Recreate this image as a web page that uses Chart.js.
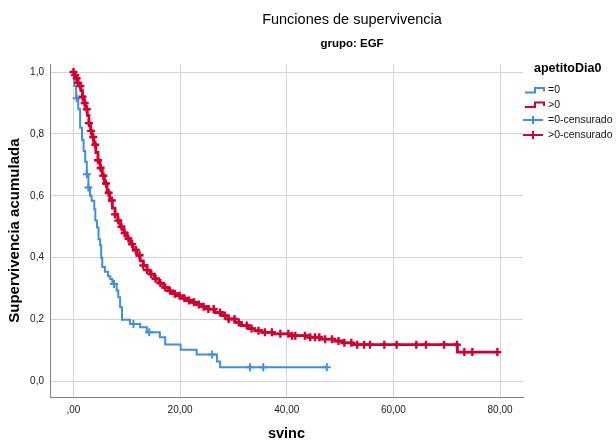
<!DOCTYPE html>
<html>
<head>
<meta charset="utf-8">
<script src="https://cdn.jsdelivr.net/npm/chart.js@4.4.0/dist/chart.umd.min.js"></script>
<style>
  html, body { margin: 0; padding: 0; background: #ffffff; }
  #wrap { width: 616px; height: 443px; }
</style>
</head>
<body>
<div id="wrap"><canvas id="km" width="616" height="443"></canvas></div>
<script>
// Survival functions by apetitoDia0 (group EGF)
const titleText = 'Funciones de supervivencia';
const subtitleText = 'grupo: EGF';
const legendTitle = 'apetitoDia0';
const groupLabels = ['=0', '>0'];
const censorLabels = ['=0-censurado', '>0-censurado'];

// Group "=0": event times and cumulative survival after each step
const timeEq0 = [0, 0.15, 0.5, 0.9, 1.25, 1.6, 1.9, 2.2, 2.5, 2.8, 3.1, 3.4, 3.9, 4.1, 4.4,
  4.7, 5.0, 5.2, 5.4, 5.9, 6.5, 6.9, 7.3, 8.1, 8.4, 8.75, 9.1, 10.6, 12.5, 13.75,
  16.2, 17.2, 20.1, 23.1, 26.9, 27.5, 47.5];
const survEq0 = [1.000, 0.955, 0.915, 0.880, 0.820, 0.780, 0.745, 0.710, 0.670, 0.627, 0.600, 0.584, 0.557, 0.520, 0.498,
  0.460, 0.440, 0.400, 0.370, 0.355, 0.340, 0.331, 0.315, 0.294, 0.272, 0.240, 0.200, 0.186, 0.175, 0.159,
  0.143, 0.120, 0.103, 0.087, 0.065, 0.046, 0.046];
// Group "=0": censored times
const censEq0 = [0.6, 2.5, 2.8, 7.6, 11.25, 14.2, 26.0, 33.1, 35.6, 47.5];

// Group ">0": event times and cumulative survival after each step
const timeGt0 = [0, 0.2, 0.5, 0.8, 1.1, 1.4, 1.7, 2.0, 2.3, 2.6, 2.9, 3.2, 3.5, 3.8, 4.2,
  4.6, 5.0, 5.4, 5.8, 6.3, 6.8, 7.3, 7.8, 8.3, 8.8, 9.4, 10.0, 10.6, 11.2, 11.9,
  12.5, 13.1, 13.8, 14.4, 15.2, 16.0, 16.9, 17.8, 18.6, 19.4, 20.4, 21.3, 22.2, 23.2, 24.2,
  25.3, 26.5, 27.8, 29.0, 30.3, 31.5, 32.8, 34.0, 35.3, 37.5, 40.5, 44.0, 46.5, 49.0, 50.5,
  52.5, 72.0, 79.5];
const survGt0 = [1.000, 0.990, 0.980, 0.965, 0.955, 0.940, 0.920, 0.900, 0.880, 0.860, 0.835, 0.810, 0.790, 0.765, 0.740,
  0.715, 0.690, 0.665, 0.640, 0.610, 0.585, 0.560, 0.540, 0.520, 0.500, 0.480, 0.462, 0.444, 0.425, 0.408,
  0.390, 0.375, 0.360, 0.347, 0.332, 0.318, 0.304, 0.293, 0.284, 0.277, 0.269, 0.262, 0.256, 0.249, 0.242,
  0.234, 0.223, 0.213, 0.202, 0.191, 0.181, 0.171, 0.164, 0.159, 0.154, 0.148, 0.143, 0.137, 0.131, 0.125,
  0.119, 0.095, 0.095];
// Group ">0": censored times
const censGt0 = [0.0, 0.3, 0.6, 0.9, 1.3, 1.7, 2.1, 2.5, 2.9, 3.3, 3.7, 4.1, 4.6, 5.1, 5.6, 6.1, 6.6, 7.2, 7.8,
  8.4, 9.0, 9.6, 10.3, 11.0, 11.7, 12.4, 13.1, 13.8, 14.6, 15.4, 16.3, 17.2, 18.1, 19.0, 19.9, 20.8,
  21.7, 22.6, 23.5, 24.4, 25.3, 26.3, 27.5, 28.4, 29.1, 30.2, 31.0, 32.5, 33.4, 34.7, 35.9, 37.2, 38.8,
  40.3, 41.0, 41.6, 43.4, 44.4, 45.3, 46.1, 47.2, 48.5, 49.7, 50.8, 52.1, 53.2, 54.5, 55.6, 58.3, 60.6,
  64.3, 66.1, 69.5, 71.9, 73.3, 74.8, 79.5];

// Axis ticks
const xTickValues = [0, 20, 40, 60, 80];
const xTickLabels = [',00', '20,00', '40,00', '60,00', '80,00'];
const yTickValues = [0, 0.2, 0.4, 0.6, 0.8, 1.0];
const yTickLabels = ['0,0', '0,2', '0,4', '0,6', '0,8', '1,0'];

const BLUE = '#3f8fdf';
const RED = '#d4002f';
const FONT = "'Liberation Sans', Arial, sans-serif";

// survival value in force at time t (last step at or before t)
function survivalAt(times, surv, t) {
  let s = surv[0];
  for (let i = 0; i < times.length; i++) {
    if (times[i] <= t) s = surv[i]; else break;
  }
  return s;
}
const toPoints = (times, surv) => times.map((t, i) => ({ x: t, y: surv[i] }));
const censorPoints = (cens, times, surv) => cens.map(t => ({ x: t, y: survivalAt(times, surv, t) }));

Chart.defaults.font.family = FONT;

// Legend with step and cross glyphs, drawn at the right of the plot
const kmLegend = {
  id: 'kmLegend',
  afterDraw(chart) {
    const ctx = chart.ctx;
    ctx.save();
    ctx.textBaseline = 'middle';
    ctx.textAlign = 'left';
    ctx.fillStyle = '#000';
    ctx.font = 'bold 12.5px ' + FONT;
    ctx.fillText(legendTitle, 534, 69);
    const rows = [
      { label: groupLabels[0], color: BLUE, glyph: 'step', y: 90.5 },
      { label: groupLabels[1], color: RED, glyph: 'step', y: 105 },
      { label: censorLabels[0], color: BLUE, glyph: 'cross', y: 120 },
      { label: censorLabels[1], color: RED, glyph: 'cross', y: 135 }
    ];
    ctx.font = '10.5px ' + FONT;
    rows.forEach(r => {
      ctx.strokeStyle = r.color;
      ctx.lineWidth = 2;
      ctx.beginPath();
      if (r.glyph === 'step') {
        ctx.moveTo(525, r.y + 2);
        ctx.lineTo(535, r.y + 2);
        ctx.lineTo(535, r.y - 2.5);
        ctx.lineTo(544, r.y - 2.5);
        ctx.lineTo(544, r.y + 1);
      } else {
        ctx.moveTo(523, r.y);
        ctx.lineTo(543, r.y);
        ctx.moveTo(533, r.y - 4);
        ctx.lineTo(533, r.y + 4);
      }
      ctx.stroke();
      ctx.fillStyle = '#111';
      ctx.fillText(r.label, 548, r.y);
    });
    ctx.restore();
  }
};

// Centre the title lines over the plot and legend block
const titlePlacement = {
  id: 'titlePlacement',
  afterLayout(chart) {
    chart.boxes.forEach(b => {
      if (b.options && (b.options.text === titleText || b.options.text === subtitleText)) {
        b.left = 88;
        b.right = 616;
      }
    });
  }
};

const lineStyle = (color, width) => ({
  showLine: true, stepped: 'before', borderColor: color, backgroundColor: color,
  borderWidth: width, pointRadius: 0, pointHoverRadius: 0, fill: false
});
const crossStyle = (color, width) => ({
  showLine: false, pointStyle: 'cross', pointRadius: 4, pointHoverRadius: 4,
  pointBorderWidth: width, borderColor: color, backgroundColor: color, pointBorderColor: color
});

new Chart(document.getElementById('km'), {
  type: 'scatter',
  data: {
    datasets: [
      Object.assign({ label: groupLabels[0], data: toPoints(timeEq0, survEq0), order: 3 }, lineStyle(BLUE, 2)),
      Object.assign({ label: groupLabels[1], data: toPoints(timeGt0, survGt0), order: 1 }, lineStyle(RED, 2.8)),
      Object.assign({ label: censorLabels[0], data: censorPoints(censEq0, timeEq0, survEq0), order: 2 }, crossStyle(BLUE, 2)),
      Object.assign({ label: censorLabels[1], data: censorPoints(censGt0, timeGt0, survGt0), order: 0 }, crossStyle(RED, 2.4))
    ]
  },
  options: {
    responsive: false,
    animation: false,
    devicePixelRatio: 1,
    layout: { padding: { left: 0, right: 93, top: 0, bottom: 0 } },
    plugins: {
      legend: { display: false },
      tooltip: { enabled: false },
      title: {
        display: true, text: titleText, color: '#000',
        font: { size: 14.5, weight: 'normal', lineHeight: 1.2 },
        padding: { top: 11.3, bottom: 4 }
      },
      subtitle: {
        display: true, text: subtitleText, color: '#000',
        font: { size: 11.5, weight: 'bold', lineHeight: 1.2 },
        padding: { top: 4.7, bottom: 13.1 }
      }
    },
    scales: {
      x: {
        type: 'linear', min: -4.4, max: 84.3,
        afterBuildTicks: s => { s.ticks = xTickValues.map(v => ({ value: v })); },
        afterFit: s => { s.height = 46; },
        ticks: {
          callback: v => xTickLabels[xTickValues.indexOf(v)],
          font: { size: 10 }, color: '#222', padding: 7, maxRotation: 0
        },
        grid: { color: '#d3d3d3', lineWidth: 1, drawTicks: false },
        border: { color: '#808080', width: 1 },
        title: {
          display: true, text: 'svinc', color: '#000',
          font: { size: 14.5, weight: 'bold', lineHeight: 1.2 },
          padding: { top: 0, bottom: 0 }
        }
      },
      y: {
        type: 'linear', min: -0.05, max: 1.025,
        afterBuildTicks: s => { s.ticks = yTickValues.map(v => ({ value: v })); },
        afterFit: s => { s.width = 50; },
        ticks: {
          callback: v => yTickLabels[yTickValues.indexOf(v)],
          font: { size: 10 }, color: '#222', padding: 6
        },
        grid: { color: '#d3d3d3', lineWidth: 1, drawTicks: false },
        border: { color: '#808080', width: 1 },
        title: {
          display: true, text: 'Supervivencia acumulada', color: '#000',
          font: { size: 15, weight: 'bold', lineHeight: 1.2 },
          padding: { top: 6, bottom: 0 }
        }
      }
    }
  },
  plugins: [titlePlacement, kmLegend]
});
</script>
</body>
</html>
